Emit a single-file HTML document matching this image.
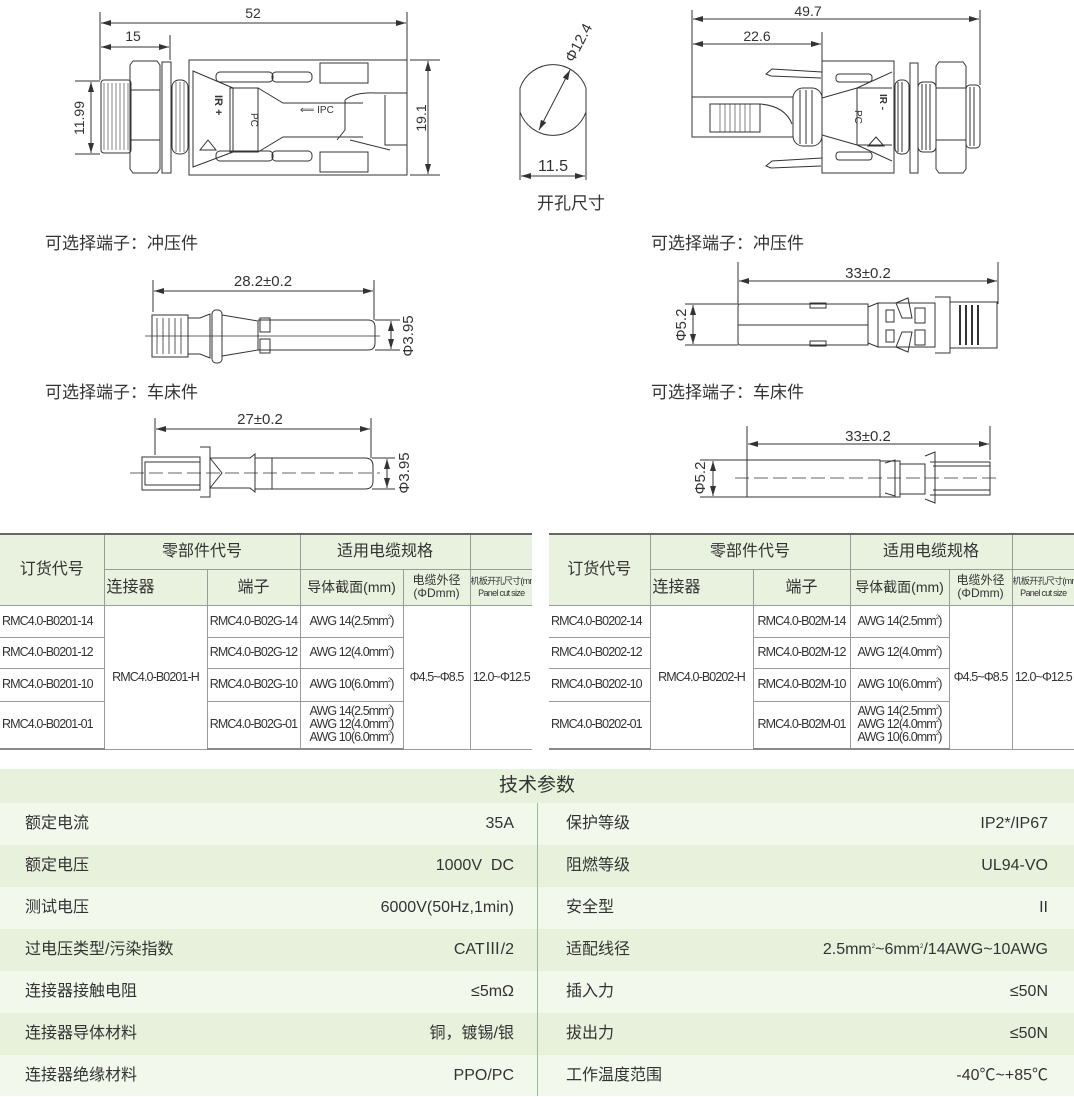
<!DOCTYPE html>
<html><head><meta charset="utf-8">
<style>
html,body{margin:0;padding:0;background:#fff;}
body{width:1074px;height:1096px;position:relative;overflow:hidden;font-family:"Liberation Sans","Noto Sans CJK SC",sans-serif;color:#333;}
.abs{position:absolute;}
.lbl{position:absolute;font-size:17px;color:#333;font-family:"Liberation Sans","Noto Sans CJK SC",sans-serif;}
table.t{position:absolute;border-collapse:collapse;table-layout:fixed;top:533px;}
table.t td{border:1px solid #9a9a9a;text-align:center;padding:0;font-size:12.5px;letter-spacing:-0.9px;color:#333;font-family:"Liberation Sans","Noto Sans CJK SC",sans-serif;line-height:13px;overflow:hidden;white-space:nowrap;}
table.t tr:first-child td{border-top:2px solid #666;}
table.t tr:last-child td{border-bottom:2px solid #888;}
table.t td:first-child{border-left:none;text-align:left;padding-left:2px;}
table.t td:last-child{border-right:none;}
table.t td.h{background:#e9f1df;font-size:16px;letter-spacing:0;}
table.t td.h2{background:#e9f1df;font-size:12px;line-height:13px;letter-spacing:0;}
table.t td.h3{background:#e9f1df;font-size:9px;line-height:12px;letter-spacing:-0.7px;}
sup{font-size:6px;line-height:0;vertical-align:6px;}
.row{position:absolute;left:0;width:1074px;height:42px;}
.row span{position:absolute;top:0;line-height:42px;font-size:16px;font-family:"Liberation Sans","Noto Sans CJK SC",sans-serif;}
</style></head><body>

<svg class="abs" style="left:0;top:0" width="1074" height="520" viewBox="0 0 1074 520" fill="none" stroke="#333" stroke-width="1">
<defs><marker id="a" viewBox="0 0 10 6" refX="10" refY="3" markerWidth="10" markerHeight="6" orient="auto-start-reverse"><path d="M0,0L10,3L0,6z" fill="#333" stroke="none"/></marker></defs>
<g font-family="Liberation Sans" font-size="14" fill="#333" stroke="none">
<text x="253" y="18" text-anchor="middle">52</text>
<text x="133" y="41" text-anchor="middle">15</text>
<text transform="translate(84,118) rotate(-90)" text-anchor="middle">11.99</text>
<text transform="translate(426,118) rotate(-90)" text-anchor="middle">19.1</text>
<text x="808" y="16" text-anchor="middle">49.7</text>
<text x="757" y="41" text-anchor="middle">22.6</text>
<text x="553" y="171" text-anchor="middle" font-size="16">11.5</text>
<text transform="translate(583,45) rotate(-62)" text-anchor="middle" font-size="15">Φ12.4</text>
<text x="263" y="286" text-anchor="middle" font-size="15">28.2±0.2</text>
<text transform="translate(413,336) rotate(-90)" text-anchor="middle" font-size="15">Φ3.95</text>
<text x="260" y="424" text-anchor="middle" font-size="15">27±0.2</text>
<text transform="translate(409,473) rotate(-90)" text-anchor="middle" font-size="15">Φ3.95</text>
<text x="868" y="278" text-anchor="middle" font-size="15">33±0.2</text>
<text transform="translate(686,325) rotate(-90)" text-anchor="middle" font-size="15">Φ5.2</text>
<text x="868" y="441" text-anchor="middle" font-size="15">33±0.2</text>
<text transform="translate(705,478) rotate(-90)" text-anchor="middle" font-size="15">Φ5.2</text>
</g>
<!-- left connector -->
<line x1="100" y1="12" x2="100" y2="80"/><line x1="407" y1="12" x2="407" y2="60"/><line x1="170" y1="35" x2="170" y2="60"/>
<line x1="101" y1="23" x2="406" y2="23" marker-start="url(#a)" marker-end="url(#a)"/>
<line x1="101" y1="47" x2="169" y2="47" marker-start="url(#a)" marker-end="url(#a)"/>
<line x1="75" y1="81" x2="100" y2="81"/><line x1="75" y1="154" x2="100" y2="154"/>
<line x1="91" y1="82" x2="91" y2="153" marker-start="url(#a)" marker-end="url(#a)"/>
<line x1="410" y1="60" x2="440" y2="60"/><line x1="410" y1="175" x2="440" y2="175"/>
<line x1="428" y1="61" x2="428" y2="174" marker-start="url(#a)" marker-end="url(#a)"/>
<rect x="101" y="80" width="30" height="73" rx="3"/>
<path d="M104 83v67M108 83v67M112 83v67M116 83v67M120 83v67M124 83v67M128 83v67" stroke-width=".6"/>
<path d="M133 61h24l3 4v104l-3 4h-24l-3-4V65z"/><line x1="130" y1="90" x2="160" y2="90"/><line x1="130" y1="140" x2="160" y2="140"/>
<rect x="162" y="62" width="9" height="111"/>
<rect x="172" y="80" width="16" height="74" rx="7"/><path d="M176 82v70M180 82v70M184 82v70" stroke-width=".6"/>
<rect x="189" y="60" width="218" height="115"/>
<path d="M193 71l40 17v64l-40 15z"/><rect x="230" y="88" width="28" height="64"/>
<path d="M258 88l25 15h80M258 152l25-15h80"/>
<rect x="216" y="72" width="57" height="10" rx="4"/><rect x="272" y="72" width="40" height="10" rx="4"/><rect x="272" y="151" width="40" height="10" rx="4"/><rect x="216" y="151" width="57" height="10" rx="4"/>
<rect x="320" y="63" width="48" height="20"/><rect x="320" y="152" width="48" height="20"/>
<path d="M345 100q10-8 30-7h32M345 100v30l-8 10M350 140l40 10M385 95v50h22"/>
<path d="M208 140l8 10h-16z"/>
<text x="205" y="95" font-size="11" fill="#333" stroke="none" transform="rotate(90 210 100)" font-family="Liberation Sans" font-weight="bold">IR +</text>
<text x="238" y="110" font-size="10" fill="#333" stroke="none" transform="rotate(90 243 118)" font-family="Liberation Sans">PC</text>
<text x="300" y="113" font-size="10" fill="#333" stroke="none" font-family="Liberation Sans">⟸ IPC</text>
<!-- hole -->
<path d="M520 88 A35 35 0 0 1 586 88 V112 A35 35 0 0 1 520 112 Z"/>
<line x1="520" y1="112" x2="520" y2="180"/><line x1="586" y1="112" x2="586" y2="180"/>
<line x1="521" y1="176" x2="585" y2="176" marker-start="url(#a)" marker-end="url(#a)"/>
<line x1="539" y1="130" x2="570" y2="70" marker-start="url(#a)" marker-end="url(#a)"/>
<!-- right connector -->
<line x1="692" y1="10" x2="692" y2="97"/><line x1="980" y1="10" x2="980" y2="85"/><line x1="822" y1="32" x2="822" y2="61"/>
<line x1="693" y1="19" x2="979" y2="19" marker-start="url(#a)" marker-end="url(#a)"/>
<line x1="693" y1="44" x2="821" y2="44" marker-start="url(#a)" marker-end="url(#a)"/>
<rect x="692" y="97" width="101" height="40"/><rect x="710" y="104" width="50" height="28"/><path d="M720 104v28M725 104v28M730 104v28M735 104v28M740 104v28M745 104v28M750 104v28" stroke-width=".6"/>
<path d="M760 104q25 2 32 20"/>
<path d="M822 72l-50-3-6 5 5 2 50 2M822 158l-50 3-6 5 5 2 50-2"/>
<rect x="793" y="88" width="29" height="58" rx="10"/><path d="M800 90v54M806 90v54M812 90v54"/>
<rect x="822" y="61" width="72" height="112"/>
<path d="M822 98l35-10h35M822 135l35 10h35M892 72l-35 16v57l35 16"/>
<rect x="836" y="74" width="36" height="8" rx="3"/><rect x="836" y="152" width="36" height="8" rx="3"/>
<line x1="857" y1="88" x2="857" y2="145"/>
<path d="M876 137l8 9h-16z"/>
<rect x="895" y="80" width="14" height="74" rx="6"/><rect x="910" y="63" width="8" height="110"/>
<rect x="918" y="82" width="18" height="70" rx="5"/><path d="M922 84v66M926 84v66M930 84v66M898 82v70M902 82v70"/>
<path d="M939 62h24l3 4v103l-3 4h-24l-3-4V66z"/><line x1="936" y1="88" x2="966" y2="88"/><line x1="936" y1="140" x2="966" y2="140"/>
<rect x="966" y="85" width="14" height="63" rx="4"/><path d="M970 87v59M974 87v59"/>
<text x="840" y="105" font-size="10" fill="#333" stroke="none" transform="rotate(90 845 115)" font-family="Liberation Sans">PC</text>
<text x="866" y="92" font-size="10" fill="#333" stroke="none" transform="rotate(90 872 100)" font-family="Liberation Sans" font-weight="bold">IR -</text>
<!-- left stamped terminal -->
<line x1="153" y1="280" x2="153" y2="312"/><line x1="374" y1="280" x2="374" y2="320"/>
<line x1="154" y1="291" x2="373" y2="291" marker-start="url(#a)" marker-end="url(#a)"/>
<line x1="375" y1="320" x2="400" y2="320"/><line x1="375" y1="350" x2="400" y2="350"/>
<line x1="391" y1="321" x2="391" y2="349" marker-start="url(#a)" marker-end="url(#a)"/>
<rect x="152" y="315" width="36" height="42"/><path d="M157 318v36M163 318v36M169 318v36M175 318v36M181 318v36" stroke-width=".8"/>
<path d="M188 318h12l10-4v44l-10-4h-12"/>
<rect x="212" y="310" width="10" height="53" rx="4"/>
<path d="M222 315l36 6v29l-36 6z"/>
<path d="M258 320h110q7 0 7 7v16q0 7-7 7h-110"/>
<rect x="260" y="318" width="10" height="14"/><rect x="260" y="339" width="10" height="14"/>
<line x1="145" y1="336" x2="380" y2="336" stroke-width=".7"/>
<!-- left lathe terminal -->
<line x1="155" y1="418" x2="155" y2="455"/><line x1="371" y1="418" x2="371" y2="458"/>
<line x1="156" y1="429" x2="370" y2="429" marker-start="url(#a)" marker-end="url(#a)"/>
<line x1="372" y1="458" x2="395" y2="458"/><line x1="372" y1="489" x2="395" y2="489"/>
<line x1="387" y1="459" x2="387" y2="488" marker-start="url(#a)" marker-end="url(#a)"/>
<rect x="142" y="457" width="58" height="33"/><rect x="145" y="462" width="55" height="23"/>
<path d="M200 447h10v50h-10M210 458l12 15-12 15M210 458h40l5-4v38l-5-4h-40M255 458h110q8 0 8 8v15q0 8-8 8h-110M272 458v31"/>
<line x1="130" y1="473" x2="380" y2="473" stroke-dasharray="14 5" stroke-width=".7"/>
<!-- right stamped terminal -->
<line x1="738" y1="262" x2="738" y2="304"/><line x1="998" y1="262" x2="998" y2="304"/>
<line x1="739" y1="281" x2="997" y2="281" marker-start="url(#a)" marker-end="url(#a)"/>
<line x1="685" y1="304" x2="738" y2="304"/><line x1="685" y1="345" x2="738" y2="345"/>
<line x1="693" y1="305" x2="693" y2="344" marker-start="url(#a)" marker-end="url(#a)"/>
<path d="M740 304h128v41h-128q-2 0-2-3v-35q0-3 2-3z"/><line x1="738" y1="325" x2="868" y2="325"/>
<rect x="810" y="303" width="16" height="5"/><rect x="810" y="341" width="16" height="5"/>
<path d="M868 307l10-4v44l-10-4M878 303h57v44h-57M886 310h8v12h-8zM886 330h8v12h-8zM896 303l12-5 4 20h-10zM896 347l12 5 4-20h-10zM915 308h10v15h-10zM915 330h10v15h-10z"/>
<path d="M935 297h15v56h-15M950 302h47v46h-47"/><path d="M960 305v40M966 305v40M972 305v40M978 305v40" stroke-width="2"/>
<!-- right lathe terminal -->
<line x1="747" y1="426" x2="747" y2="460"/><line x1="990" y1="426" x2="990" y2="460"/>
<line x1="748" y1="444" x2="989" y2="444" marker-start="url(#a)" marker-end="url(#a)"/>
<line x1="700" y1="460" x2="747" y2="460"/><line x1="700" y1="497" x2="747" y2="497"/>
<line x1="713" y1="461" x2="713" y2="496" marker-start="url(#a)" marker-end="url(#a)"/>
<rect x="747" y="460" width="133" height="37"/>
<path d="M880 461h20v36h-20M885 463l10-3v36l-10-3M900 464h25v30h-25M925 456l10-4v51l-10-4M933 466h57v24h-57M930 462h60v33h-60"/>
<line x1="735" y1="478" x2="1000" y2="478" stroke-dasharray="14 5" stroke-width=".7"/>
</svg>

<div class="lbl" style="left:537px;top:189px;">开孔尺寸</div>
<div class="lbl" style="left:45px;top:229px;">可选择端子：冲压件</div>
<div class="lbl" style="left:45px;top:378px;">可选择端子：车床件</div>
<div class="lbl" style="left:651px;top:229px;">可选择端子：冲压件</div>
<div class="lbl" style="left:651px;top:378px;">可选择端子：车床件</div>

<table class="t" style="left:0;width:532px;">
<colgroup><col style="width:104px"><col style="width:103px"><col style="width:93px"><col style="width:103px"><col style="width:67px"><col style="width:62px"></colgroup>
<tr style="height:35px"><td class="h" rowspan="2" style="text-align:center;padding:0">订货代号</td><td class="h" colspan="2">零部件代号</td><td class="h" colspan="2">适用电缆规格</td><td class="h"></td></tr>
<tr style="height:36px"><td class="h">连接器</td><td class="h">端子</td><td class="h" style="font-size:14px">导体截面(mm)</td><td class="h2">电缆外径<br>(ΦDmm)</td><td class="h3">机板开孔尺寸(mm)<br>Panel cut size</td></tr>
<tr style="height:32px"><td>RMC4.0-B0201-14</td><td rowspan="4">RMC4.0-B0201-H</td><td>RMC4.0-B02G-14</td><td>AWG 14(2.5mm<sup>2</sup>)</td><td rowspan="4">Φ4.5~Φ8.5</td><td rowspan="4">12.0~Φ12.5</td></tr>
<tr style="height:31px"><td>RMC4.0-B0201-12</td><td>RMC4.0-B02G-12</td><td>AWG 12(4.0mm<sup>2</sup>)</td></tr>
<tr style="height:33px"><td>RMC4.0-B0201-10</td><td>RMC4.0-B02G-10</td><td>AWG 10(6.0mm<sup>2</sup>)</td></tr>
<tr style="height:48px"><td>RMC4.0-B0201-01</td><td>RMC4.0-B02G-01</td><td>AWG 14(2.5mm<sup>2</sup>)<br>AWG 12(4.0mm<sup>2</sup>)<br>AWG 10(6.0mm<sup>2</sup>)</td></tr>
</table>

<table class="t" style="left:549px;width:525px;">
<colgroup><col style="width:101px"><col style="width:103px"><col style="width:97px"><col style="width:99px"><col style="width:63px"><col style="width:62px"></colgroup>
<tr style="height:35px"><td class="h" rowspan="2" style="text-align:center;padding:0">订货代号</td><td class="h" colspan="2">零部件代号</td><td class="h" colspan="2">适用电缆规格</td><td class="h"></td></tr>
<tr style="height:36px"><td class="h">连接器</td><td class="h">端子</td><td class="h" style="font-size:14px">导体截面(mm)</td><td class="h2">电缆外径<br>(ΦDmm)</td><td class="h3">机板开孔尺寸(mm)<br>Panel cut size</td></tr>
<tr style="height:32px"><td>RMC4.0-B0202-14</td><td rowspan="4">RMC4.0-B0202-H</td><td>RMC4.0-B02M-14</td><td>AWG 14(2.5mm<sup>2</sup>)</td><td rowspan="4">Φ4.5~Φ8.5</td><td rowspan="4">12.0~Φ12.5</td></tr>
<tr style="height:31px"><td>RMC4.0-B0202-12</td><td>RMC4.0-B02M-12</td><td>AWG 12(4.0mm<sup>2</sup>)</td></tr>
<tr style="height:33px"><td>RMC4.0-B0202-10</td><td>RMC4.0-B02M-10</td><td>AWG 10(6.0mm<sup>2</sup>)</td></tr>
<tr style="height:48px"><td>RMC4.0-B0202-01</td><td>RMC4.0-B02M-01</td><td>AWG 14(2.5mm<sup>2</sup>)<br>AWG 12(4.0mm<sup>2</sup>)<br>AWG 10(6.0mm<sup>2</sup>)</td></tr>
</table>

<div class="abs" style="left:0;top:769px;width:1074px;height:34px;background:#e8f1dc;text-align:center;font-size:19px;line-height:34px;color:#333;">技术参数</div>
<div class="row" style="top:803px;background:#f3f8ec"><span style="left:25px">额定电流</span><span style="right:560px">35A</span><span style="left:566px">保护等级</span><span style="right:26px">IP2*/IP67</span></div>
<div class="row" style="top:845px;background:#e8f1dc"><span style="left:25px">额定电压</span><span style="right:560px">1000V&nbsp;&nbsp;DC</span><span style="left:566px">阻燃等级</span><span style="right:26px">UL94-VO</span></div>
<div class="row" style="top:887px;background:#f3f8ec"><span style="left:25px">测试电压</span><span style="right:560px">6000V(50Hz,1min)</span><span style="left:566px">安全型</span><span style="right:26px">II</span></div>
<div class="row" style="top:929px;background:#e8f1dc"><span style="left:25px">过电压类型/污染指数</span><span style="right:560px">CATⅢ/2</span><span style="left:566px">适配线径</span><span style="right:26px">2.5mm<sup>2</sup>~6mm<sup>2</sup>/14AWG~10AWG</span></div>
<div class="row" style="top:971px;background:#f3f8ec"><span style="left:25px">连接器接触电阻</span><span style="right:560px">≤5mΩ</span><span style="left:566px">插入力</span><span style="right:26px">≤50N</span></div>
<div class="row" style="top:1013px;background:#e8f1dc"><span style="left:25px">连接器导体材料</span><span style="right:560px">铜，镀锡/银</span><span style="left:566px">拔出力</span><span style="right:26px">≤50N</span></div>
<div class="row" style="top:1055px;height:41px;background:#f3f8ec"><span style="left:25px">连接器绝缘材料</span><span style="right:560px">PPO/PC</span><span style="left:566px">工作温度范围</span><span style="right:26px">-40℃~+85℃</span></div>
<div class="abs" style="left:537px;top:803px;width:1px;height:293px;background:#8cc49a;"></div>
</body></html>
